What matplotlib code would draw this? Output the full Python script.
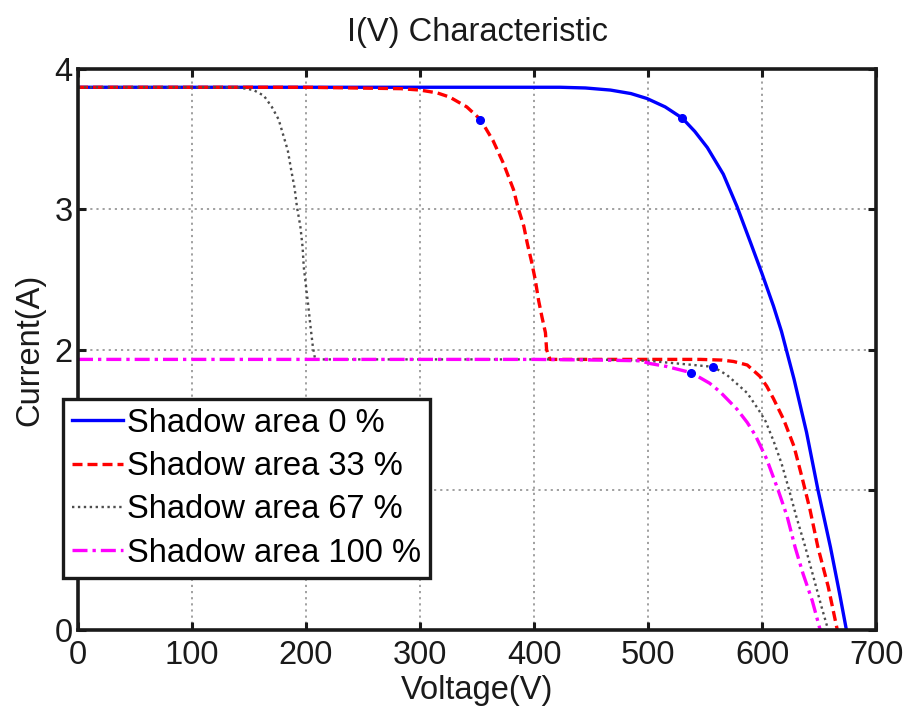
import matplotlib
matplotlib.use("Agg")
import matplotlib.pyplot as plt

# --- data (voltage V, current A) ---
v_0 = [0, 100, 200, 300, 400, 423, 445, 467, 485, 499, 515, 530, 541, 552,
       566, 578, 590, 600, 610, 617, 628, 639, 649, 660, 668, 674]
i_0 = [3.87, 3.87, 3.87, 3.87, 3.87, 3.87, 3.865, 3.85, 3.825, 3.79, 3.73,
       3.65, 3.555, 3.44, 3.25, 3.02, 2.76, 2.54, 2.31, 2.13, 1.79, 1.41, 1.00,
       0.59, 0.26, 0.0]

v_33 = [0, 100, 200, 283, 300, 315, 326, 341, 353, 364, 373, 382, 386, 391,
        394, 398, 401, 404, 407, 410, 411, 414, 450, 499, 546, 565, 575, 587,
        598, 604, 610, 619, 628, 635, 642, 649, 658, 666]
i_33 = [3.87, 3.87, 3.87, 3.86, 3.85, 3.83, 3.80, 3.73, 3.64, 3.49, 3.33, 3.14,
        3.01, 2.88, 2.76, 2.62, 2.50, 2.35, 2.23, 2.12, 2.00, 1.93, 1.93, 1.93,
        1.93, 1.925, 1.915, 1.89, 1.81, 1.74, 1.65, 1.50, 1.31, 1.09, 0.86,
        0.59, 0.31, 0.0]

v_67 = [0, 100, 140, 154, 163, 170, 176, 180, 184, 187, 190, 192, 195, 197,
        198, 200, 202, 204, 206, 208, 250, 350, 450, 500, 540, 557, 569, 576,
        587, 597, 603, 610, 617, 623, 630, 638, 645, 652, 658]
i_67 = [3.87, 3.87, 3.87, 3.85, 3.81, 3.73, 3.64, 3.53, 3.42, 3.28, 3.15, 3.02,
        2.88, 2.73, 2.59, 2.45, 2.31, 2.16, 2.02, 1.93, 1.93, 1.93, 1.93, 1.92,
        1.89, 1.877, 1.82, 1.77, 1.69, 1.57, 1.49, 1.35, 1.19, 1.02, 0.81,
        0.59, 0.38, 0.17, 0.0]

v_100 = [0, 100, 200, 300, 400, 458, 493, 502, 516, 538, 554, 563, 578, 587,
         594, 604, 614, 622, 629, 636, 644, 651]
i_100 = [1.93, 1.93, 1.93, 1.93, 1.93, 1.925, 1.92, 1.90, 1.88, 1.835, 1.76,
         1.70, 1.575, 1.48, 1.39, 1.22, 1.00, 0.81, 0.59, 0.40, 0.21, 0.0]

# maximum power points
mpp_v = [530, 353, 557, 538]
mpp_i = [3.65, 3.64, 1.877, 1.835]

labels = ["Shadow area 0 %", "Shadow area 33 %", "Shadow area 67 %",
          "Shadow area 100 %"]

plt.rcParams["font.family"] = ["Liberation Sans", "DejaVu Sans"]
fs = 23.5

fig = plt.figure(figsize=(9.09, 7.08), dpi=100)
ax = fig.add_axes([0.0858, 0.110, 0.878, 0.7925])

ax.plot(v_0, i_0, color="#0000ff", lw=2.4, label=labels[0])
ax.plot(v_33, i_33, color="#ff0000", lw=2.4, dashes=(3.0, 1.5),
        label=labels[1])
ax.plot(v_67, i_67, color="#4d4d4d", lw=1.7, linestyle=(0, (1, 1.5)),
        label=labels[2])
ax.plot(v_100, i_100, color="#ff00ff", lw=2.4,
        linestyle=(0, (4.5, 1.5, 1.0, 1.5)), label=labels[3])
ax.plot(mpp_v, mpp_i, "o", color="#0000ff", ms=5.5, zorder=5)

ax.set_xlim(0, 700)
ax.set_ylim(0, 4)
ax.set_xticks(range(0, 701, 100))
ax.set_yticks([0, 1, 2, 3, 4])
ax.set_yticklabels(["0", "", "2", "3", "4"])
ax.grid(True, color="#999999", linestyle=(0, (1.2, 2.2)), lw=1.3)
ax.set_axisbelow(True)

ax.tick_params(direction="in", length=6, width=2.2, top=True, right=True,
               labelsize=fs, colors="#1a1a1a")
ax.tick_params(axis="x", pad=7)
ax.tick_params(axis="y", pad=4)
for s in ax.spines.values():
    s.set_linewidth(2.6)
    s.set_color("#1a1a1a")

ax.set_title("I(V) Characteristic", fontsize=fs, color="#1a1a1a", pad=20)
ax.set_xlabel("Voltage(V)", fontsize=fs, color="#1a1a1a", labelpad=3)
ax.set_ylabel("Current(A)", fontsize=fs, color="#1a1a1a", labelpad=6)

leg = fig.legend(loc="lower left", bbox_to_anchor=(0.0693, 0.1836),
                 fontsize=fs, fancybox=False, framealpha=1,
                 edgecolor="#1a1a1a", handlelength=1.55, handletextpad=0.12,
                 labelspacing=0.38, borderpad=0.28, borderaxespad=0)
leg.get_frame().set_linewidth(2.4)

fig.savefig("out.png", dpi=100)
